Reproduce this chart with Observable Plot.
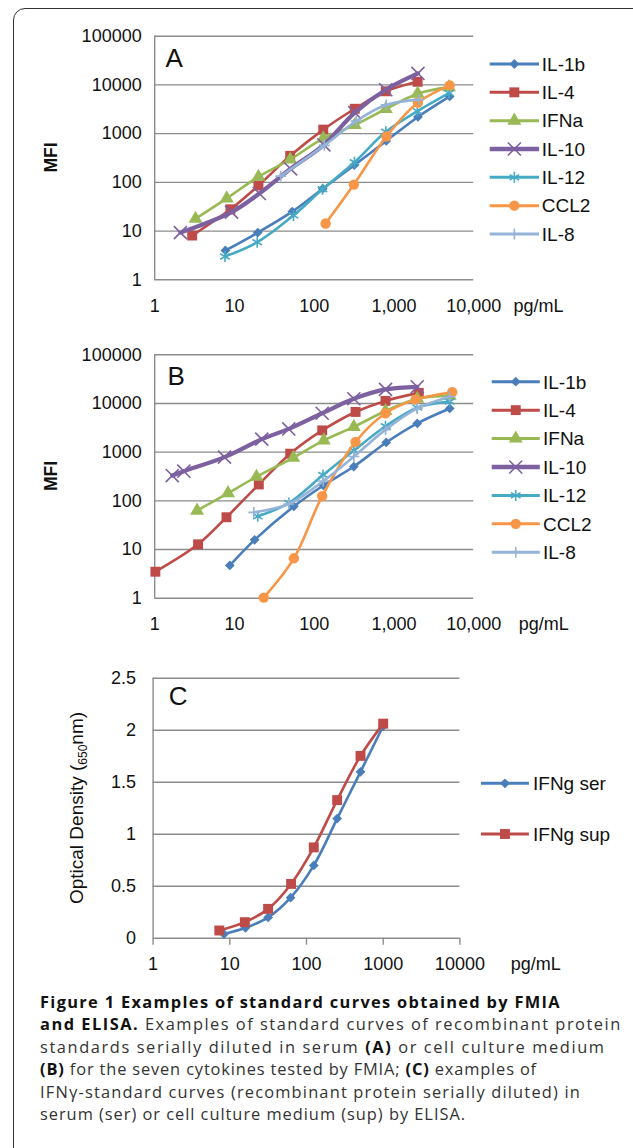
<!DOCTYPE html>
<html><head><meta charset="utf-8">
<script src="https://cdn.jsdelivr.net/npm/d3@7"></script>
<script src="https://cdn.jsdelivr.net/npm/@observablehq/plot@0.6"></script>
<style>
html,body{margin:0;padding:0;background:#fff;}
body{width:633px;height:1148px;overflow:hidden;position:relative;font-family:"Liberation Sans",Arial,sans-serif;}
#frame{position:absolute;left:13px;top:8px;width:800px;height:1400px;border:1.5px solid #333;border-radius:12px;box-sizing:border-box;}
.panel{position:absolute;left:0;}
#overlay{position:absolute;left:0;top:0;pointer-events:none;}
#caption{position:absolute;left:40px;top:990.5px;font-family:"Open Sans";font-size:16.4px;line-height:22.5px;color:#333;white-space:nowrap;}
#caption b{color:#111;}
#caption span{display:inline-block;height:22.5px;}
</style></head><body>
<div id="frame"></div>
<div id="pA" class="panel" style="top:0px"></div>
<div id="pB" class="panel" style="top:320px"></div>
<div id="pC" class="panel" style="top:640px"></div>
<svg id="overlay" width="633" height="1148"></svg>
<div id="caption"></div>
<script>
// ---------- data ----------
const names = ["IL-1b","IL-4","IFNa","IL-10","IL-12","CCL2","IL-8"];
const colors = ["#4A7EBB","#BE4B48","#98B954","#7D60A0","#46AAC5","#F79646","#95B3D7"];
const symbols = ["diamond2","square","triangle","times","asterisk","circle","plus"];

// Panel A (serum): concentration pg/mL and MFI
const concA = [
  [7.7, 19.6, 53, 128, 318, 800, 2000, 5000],
  [2.95, 8.9, 20, 50, 130, 323, 790, 1980],
  [3.25, 8.0, 20, 50, 130, 323, 790, 1980, 4900],
  [2.1, 9.2, 20.5, 50.5, 132, 323, 790, 2000],
  [7.6, 19.3, 55, 127, 320, 790, 1970, 4900],
  [139, 314, 805, 2000, 5000],
  [38, 134, 336, 800, 2050]
];
const mfiA = [
  [4.0, 9.3, 25, 74, 225, 710, 2200, 5800],
  [8.1, 28, 86, 350, 1210, 3240, 7400, 11600],
  [17.9, 47, 130, 295, 800, 1500, 3200, 6600, 9000],
  [9.3, 24.5, 59, 190, 590, 2700, 7950, 17200],
  [3.0, 5.9, 21, 72, 258, 1090, 2900, 6800],
  [14.3, 90, 875, 4350, 9800],
  [134, 574, 1810, 3900, 5000]
];
// Panel B (cell culture medium)
const concB = [
  [8.75, 17.9, 55.6, 130, 314, 800, 1960, 5000],
  [1.02, 3.5, 7.95, 20.2, 50, 126, 330, 784, 2050],
  [3.4, 8.3, 18.9, 54.6, 132, 314, 784, 1960, 5000],
  [1.66, 2.32, 7.5, 22, 48, 126, 314, 784, 1960],
  [19.6, 48, 129, 314, 784, 1960, 5000],
  [23.3, 55.6, 126, 330, 784, 1870, 5380],
  [17.5, 48, 130, 314, 784, 1960, 5000]
];
const mfiB = [
  [4.7, 15.8, 77, 207, 507, 1580, 3900, 7900],
  [3.5, 12.8, 46, 217, 930, 2800, 6700, 11300, 16500],
  [63, 144, 312, 766, 1740, 3300, 7000, 12500, 14500],
  [331, 406, 790, 1850, 3000, 6300, 12500, 19500, 22000],
  [48, 90, 340, 1080, 3400, 8200, 11000],
  [1.03, 6.6, 125, 1630, 6300, 12000, 17000],
  [58, 86, 255, 812, 2900, 7900, 13800]
];
// Panel C (ELISA)
const namesC = ["IFNg ser","IFNg sup"];
const colorsC = ["#4A7EBB","#BE4B48"];
const symbolsC = ["diamond2","square"];
const concC = [
  [8.4, 16, 31.6, 62, 124.5, 251, 506, 1000],
  [7.3, 15.7, 31.6, 63, 124.5, 251, 506, 1000]
];
const odC = [
  [0.04, 0.10, 0.20, 0.39, 0.70, 1.15, 1.60, 2.04],
  [0.074, 0.154, 0.282, 0.522, 0.873, 1.328, 1.753, 2.063]
];

const xTicksMFI = [1, 10, 100, 1000, 10000];
const xLabelsMFI = ["1", "10", "100", "1,000", "10,000"];
const yTicksMFI = [1, 10, 100, 1000, 10000, 100000];
const yLabelsMFI = ["1", "10", "100", "1000", "10000", "100000"];
const xTicksOD = [1, 10, 100, 1000, 10000];
const xLabelsOD = ["1", "10", "100", "1000", "10000"];
const yTicksOD = [0, 0.5, 1, 1.5, 2, 2.5];
const yLabelsOD = ["0", "0.5", "1", "1.5", "2", "2.5"];

// ---------- helpers ----------
const GRID = "#8c8c8c";
const strokeSyms = new Set(["times","asterisk","plus"]);
const symR = {diamond2: 4.4, square: 5.6, triangle: 5.2, times: 6, asterisk: 5.2, circle: 5.2, plus: 3.6};
const symD3 = {diamond2: d3.symbolDiamond2, square: d3.symbolSquare, triangle: d3.symbolTriangle,
  times: d3.symbolTimes, asterisk: d3.symbolAsterisk, circle: d3.symbolCircle, plus: d3.symbolPlus};
const fmt = (ticks, labels) => { const m = new Map(ticks.map((t, i) => [t, labels[i]])); return d => m.get(d) ?? ""; };

function toRows(sNames, concs, vals) {
  return sNames.flatMap((n, i) => concs[i].map((c, j) => ({series: n, conc: c, value: vals[i][j]})));
}
function seriesMarks(rows, sNames, sColors, sSyms, thick) {
  return sNames.flatMap((n, i) => {
    const d = rows.filter(r => r.series === n);
    const sym = sSyms[i];
    const isStroke = strokeSyms.has(sym);
    return [
      Plot.line(d, {x: "conc", y: "value", stroke: sColors[i], strokeWidth: thick && thick[i] ? thick[i] : 2.6, curve: "catmull-rom"}),
      Plot.dot(d, {x: "conc", y: "value", symbol: sym, r: symR[sym],
        fill: isStroke ? "none" : sColors[i], stroke: isStroke ? sColors[i] : "none", strokeWidth: isStroke ? 1.6 : 0})
    ];
  });
}
const baseStyle = {fontFamily: "'Liberation Sans', Arial, sans-serif", fontSize: "18px", color: "#111", background: "transparent", overflow: "visible"};

function mfiPlot(rows, h, mt, mb) {
  return Plot.plot({
    width: 633, height: h,
    marginLeft: 154.2, marginRight: 633 - 473.2, marginTop: mt, marginBottom: mb,
    x: {type: "log", domain: [1, 10000]},
    y: {type: "log", domain: [1, 100000]},
    style: baseStyle,
    marks: [
      Plot.gridY(yTicksMFI, {stroke: GRID, strokeOpacity: 1, strokeWidth: 1.4}),
      Plot.ruleX([1], {stroke: GRID, strokeWidth: 1.4}),
      Plot.axisY(yTicksMFI, {label: null, tickSize: 0, tickPadding: 13, tickFormat: fmt(yTicksMFI, yLabelsMFI), fontSize: 18, fill: "#111"}),
      Plot.axisX(xTicksMFI, {label: null, tickSize: 0, tickPadding: 19, tickFormat: fmt(xTicksMFI, xLabelsMFI), fontSize: 18, fill: "#111"}),
      ...seriesMarks(rows, names, colors, symbols, [0, 0, 0, 4.2, 0, 0, 0])
    ]
  });
}

const rowsA = toRows(names, concA, mfiA);
const rowsB = toRows(names, concB, mfiB);
const rowsC = toRows(namesC, concC, odC);

document.getElementById("pA").append(mfiPlot(rowsA, 320, 35.7, 320 - 279.3));
document.getElementById("pB").append(mfiPlot(rowsB, 320, 354.3 - 320, 320 - (597.7 - 320)));

const plotC = Plot.plot({
  width: 633, height: 330,
  marginLeft: 152.6, marginRight: 633 - 459.4, marginTop: 677.7 - 640, marginBottom: 330 - (937.7 - 640),
  x: {type: "log", domain: [1, 10000]},
  y: {domain: [0, 2.5]},
  style: baseStyle,
  marks: [
    Plot.gridY(yTicksOD, {stroke: GRID, strokeOpacity: 1, strokeWidth: 1.4}),
    Plot.ruleX([1], {stroke: GRID, strokeWidth: 1.4}),
    Plot.axisY(yTicksOD, {label: null, tickSize: 0, tickPadding: 17, tickFormat: fmt(yTicksOD, yLabelsOD), fontSize: 18, fill: "#111"}),
    Plot.axisX(xTicksOD, {label: null, tickSize: 7, stroke: GRID, strokeWidth: 1.4, strokeOpacity: 1, tickPadding: 12, tickFormat: fmt(xTicksOD, xLabelsOD), fontSize: 18, fill: "#111"}),
    ...seriesMarks(rowsC, namesC, colorsC, symbolsC, null)
  ]
});
document.getElementById("pC").append(plotC);

// ---------- overlay: panel letters, axis titles, legends ----------
const ov = d3.select("#overlay");
const FONT = "'Liberation Sans', Arial, sans-serif";
function txt(x, y, s, size, opts = {}) {
  const t = ov.append("text").attr("x", x).attr("y", y).attr("font-family", FONT)
    .attr("font-size", size).attr("fill", opts.fill || "#111").text(s);
  if (opts.weight) t.attr("font-weight", opts.weight);
  if (opts.anchor) t.attr("text-anchor", opts.anchor);
  return t;
}
txt(165.5, 66.7, "A", 26);
txt(167.5, 385, "B", 26);
txt(168.8, 705, "C", 26);
txt(0, 0, "MFI", 17.5, {weight: "bold", anchor: "middle"}).attr("transform", "translate(56.5,157.5) rotate(-90)");
txt(0, 0, "MFI", 17.5, {weight: "bold", anchor: "middle"}).attr("transform", "translate(56.5,476) rotate(-90)");
txt(513.5, 311.5, "pg/mL", 18);
txt(518.8, 629.8, "pg/mL", 18);
txt(510.7, 969.8, "pg/mL", 18);
{
  const t = ov.append("text").attr("font-family", FONT).attr("font-size", 19).attr("fill", "#111")
    .attr("text-anchor", "middle").attr("transform", "translate(82.5,808) rotate(-90)");
  t.append("tspan").text("Optical Density (");
  t.append("tspan").attr("font-size", 12).attr("dy", 4).text("650");
  t.append("tspan").attr("dy", -4).text("nm)");
}
function legend(sNames, sColors, sSyms, x0, x1, tx, y0, step, thick) {
  sNames.forEach((n, i) => {
    const y = y0 + i * step;
    const g = ov.append("g");
    g.append("line").attr("x1", x0).attr("x2", x1).attr("y1", y).attr("y2", y)
      .attr("stroke", sColors[i]).attr("stroke-width", thick && thick[i] ? thick[i] : 3);
    const sym = sSyms[i];
    const isStroke = strokeSyms.has(sym);
    const r = symR[sym];
    g.append("path").attr("transform", `translate(${(x0 + x1) / 2},${y})`)
      .attr("d", d3.symbol(symD3[sym], Math.PI * r * r)())
      .attr("fill", isStroke ? "none" : sColors[i]).attr("stroke", isStroke ? sColors[i] : "none")
      .attr("stroke-width", isStroke ? 1.6 : 0);
    txt(tx, y + 6.8, n, 19);
  });
}
legend(names, colors, symbols, 489.7, 539, 541.8, 64, 28.33, [0, 0, 0, 4.6, 0, 0, 0]);
legend(names, colors, symbols, 491.7, 539.8, 543, 381.7, 28.43, [0, 0, 0, 4.6, 0, 0, 0]);
legend(namesC, colorsC, symbolsC, 481, 528.9, 533, 783.3, 50.7, null);

// ---------- caption ----------
const captionLines = [
  "<b>Figure 1 Examples of standard curves obtained by FMIA</b>",
  "<b>and ELISA.</b> Examples of standard curves of recombinant protein",
  "standards serially diluted in serum <b>(A)</b> or cell culture medium",
  "<b>(B)</b> for the seven cytokines tested by FMIA; <b>(C)</b> examples of",
  "IFNγ-standard curves (recombinant protein serially diluted) in",
  "serum (ser) or cell culture medium (sup) by ELISA."
];
const captionWidths = [521, 581.7, 565.6, 497, 541, 426];
const cap = document.getElementById("caption");
captionLines.forEach((h, i) => {
  const s = document.createElement("span");
  s.innerHTML = h;
  cap.appendChild(s);
  cap.appendChild(document.createElement("br"));
  const w = s.getBoundingClientRect().width;
  const n = s.textContent.length;
  s.style.letterSpacing = ((captionWidths[i] - w) / n) + "px";
});
</script>
</body></html>
